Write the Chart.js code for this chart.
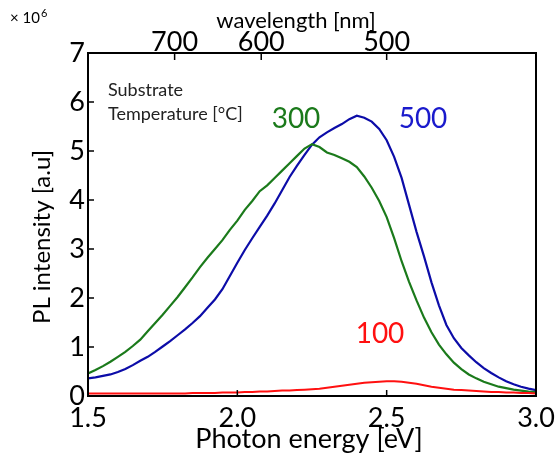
<!DOCTYPE html>
<html>
<head>
<meta charset="utf-8">
<script src="https://cdn.jsdelivr.net/npm/chart.js@4"></script>
<style>
  body { margin: 0; background: #fff; }
  canvas { display: block; }
</style>
</head>
<body>
<canvas id="plChart" width="555" height="454"></canvas>
<script>
// photon energy grid [eV]
const energy = [
  1.500, 1.525, 1.550, 1.575, 1.600, 1.625, 1.650, 1.675, 1.700, 1.725,
  1.750, 1.775, 1.800, 1.825, 1.850, 1.875, 1.900, 1.925, 1.950, 1.975,
  2.000, 2.025, 2.050, 2.075, 2.100, 2.125, 2.150, 2.175, 2.200, 2.225,
  2.250, 2.275, 2.300, 2.325, 2.350, 2.375, 2.400, 2.425, 2.450, 2.475,
  2.500, 2.525, 2.550, 2.575, 2.600, 2.625, 2.650, 2.675, 2.700, 2.725,
  2.750, 2.775, 2.800, 2.825, 2.850, 2.875, 2.900, 2.925, 2.950, 2.975,
  3.000
];

// PL intensity (x 10^6) for each substrate temperature
const pl300 = [
  0.46, 0.53, 0.61, 0.70, 0.80, 0.90, 1.02, 1.15, 1.32, 1.49,
  1.66, 1.84, 2.02, 2.22, 2.42, 2.63, 2.82, 3.00, 3.18, 3.39,
  3.58, 3.80, 3.98, 4.18, 4.30, 4.45, 4.60, 4.75, 4.90, 5.05,
  5.14, 5.08, 4.97, 4.92, 4.85, 4.78, 4.67, 4.48, 4.25, 3.98,
  3.65, 3.22, 2.75, 2.33, 1.95, 1.60, 1.30, 1.05, 0.85, 0.68,
  0.55, 0.44, 0.36, 0.29, 0.24, 0.19, 0.16, 0.13, 0.11, 0.09,
  0.08
];
const pl500 = [
  0.36, 0.38, 0.41, 0.44, 0.49, 0.55, 0.63, 0.72, 0.80, 0.90,
  1.01, 1.12, 1.24, 1.36, 1.49, 1.63, 1.80, 1.97, 2.18, 2.45,
  2.72, 2.98, 3.22, 3.45, 3.68, 3.93, 4.20, 4.47, 4.70, 4.92,
  5.13, 5.28, 5.38, 5.47, 5.55, 5.65, 5.72, 5.68, 5.60, 5.45,
  5.22, 4.88, 4.45, 3.90, 3.35, 2.85, 2.32, 1.85, 1.45, 1.18,
  0.98, 0.83, 0.69, 0.57, 0.47, 0.38, 0.30, 0.24, 0.19, 0.15,
  0.12
];
const pl100 = [
  0.05, 0.05, 0.05, 0.05, 0.05, 0.05, 0.05, 0.05, 0.05, 0.05,
  0.05, 0.05, 0.05, 0.05, 0.06, 0.06, 0.06, 0.06, 0.07, 0.07,
  0.07, 0.08, 0.08, 0.09, 0.09, 0.10, 0.11, 0.11, 0.12, 0.13,
  0.14, 0.15, 0.17, 0.19, 0.21, 0.23, 0.25, 0.27, 0.28, 0.29,
  0.30, 0.30, 0.29, 0.27, 0.25, 0.22, 0.19, 0.17, 0.15, 0.13,
  0.12, 0.11, 0.10, 0.09, 0.08, 0.08, 0.07, 0.07, 0.06, 0.06,
  0.05
];

const xTicks = [1.5, 2.0, 2.5, 3.0];
const yTicks = [0, 1, 2, 3, 4, 5, 6, 7];
const wavelengthLabels = ['700', '600', '500'];
const wavelengthTickEnergy = [1.79, 2.08, 2.50]; // where the nm ticks sit on the eV axis

const FONT = 'Lato';
const GREEN = '#1b7a1b';
const BLUE = '#0c0ca8';
const RED = '#ff1010';

function toPoints(ys) {
  return energy.map((e, i) => ({ x: e, y: ys[i] }));
}

// frame, inward ticks and free text
const decorPlugin = {
  id: 'decor',
  afterDraw(chart) {
    const { ctx, chartArea: a, scales } = chart;
    ctx.save();
    ctx.strokeStyle = '#000';
    ctx.lineWidth = 2;
    ctx.strokeRect(a.left, a.top, a.right - a.left, a.bottom - a.top);

    ctx.lineWidth = 1.5;
    ctx.beginPath();
    yTicks.forEach(v => {
      const y = scales.y.getPixelForValue(v);
      ctx.moveTo(a.left, y); ctx.lineTo(a.left + 6, y);
    });
    xTicks.forEach(v => {
      const x = scales.x.getPixelForValue(v);
      ctx.moveTo(x, a.bottom); ctx.lineTo(x, a.bottom - 6);
    });
    wavelengthTickEnergy.forEach(v => {
      const x = scales.x.getPixelForValue(v);
      ctx.moveTo(x, a.top); ctx.lineTo(x, a.top + 7);
    });
    ctx.stroke();

    ctx.fillStyle = '#000';
    ctx.textBaseline = 'alphabetic';
    ctx.textAlign = 'center';
    ctx.font = `27px ${FONT}`;
    ctx.fillText('Photon energy [eV]', 309, 448);
    ctx.font = `22px ${FONT}`;
    ctx.fillText('wavelength [nm]', 296, 28);

    ctx.save();
    ctx.translate(50, 237);
    ctx.rotate(-Math.PI / 2);
    ctx.font = `24px ${FONT}`;
    ctx.fillText('PL intensity [a.u]', 0, 0);
    ctx.restore();

    // exponent note
    ctx.textAlign = 'left';
    ctx.font = `15px ${FONT}`;
    ctx.fillText('\u00d7 10', 10, 23);
    const w = ctx.measureText('\u00d7 10').width;
    ctx.font = `11px ${FONT}`;
    ctx.fillText('6', 10 + w + 1, 17);

    ctx.fillStyle = '#222';
    ctx.font = `18px ${FONT}`;
    ctx.fillText('Substrate', 108, 96);
    ctx.fillText('Temperature [\u00b0C]', 108, 120);

    ctx.textAlign = 'center';
    ctx.font = `28px ${FONT}`;
    ctx.fillStyle = GREEN;
    ctx.fillText('300', 296, 128);
    ctx.fillStyle = '#1a1acc';
    ctx.fillText('500', 423, 128);
    ctx.fillStyle = RED;
    ctx.fillText('100', 380, 343);
    ctx.restore();
  }
};

function fixSides(s) {
  s.paddingLeft = 0;
  s.paddingRight = 0;
}

const ctx = document.getElementById('plChart').getContext('2d');
const plChart = new Chart(ctx, {
  type: 'line',
  data: {
    datasets: [
      { label: '100', data: toPoints(pl100), borderColor: RED, borderWidth: 2, pointRadius: 0 },
      { label: '300', data: toPoints(pl300), borderColor: GREEN, borderWidth: 2.2, pointRadius: 0 },
      { label: '500', data: toPoints(pl500), borderColor: BLUE, borderWidth: 2.2, pointRadius: 0 }
    ]
  },
  options: {
    responsive: false,
    animation: false,
    devicePixelRatio: 1,
    layout: { padding: { left: 0, right: 19, top: 0, bottom: 0 } },
    plugins: {
      legend: { display: false },
      tooltip: { enabled: false }
    },
    scales: {
      x: {
        type: 'linear',
        position: 'bottom',
        min: 1.5,
        max: 3.0,
        grid: { display: false, drawTicks: false },
        border: { display: false },
        afterBuildTicks: s => { s.ticks = xTicks.map(v => ({ value: v })); },
        afterFit: s => { s.height = 58; fixSides(s); },
        ticks: {
          autoSkip: false,
          maxRotation: 0,
          padding: 6,
          color: '#000',
          font: { family: FONT, size: 27 },
          callback: v => v.toFixed(1)
        }
      },
      x2: {
        type: 'linear',
        position: 'top',
        min: 1.5,
        max: 3.0,
        grid: { display: false, drawTicks: false },
        border: { display: false },
        afterBuildTicks: s => { s.ticks = wavelengthTickEnergy.map(v => ({ value: v })); },
        afterFit: s => { s.height = 53; fixSides(s); },
        ticks: {
          autoSkip: false,
          maxRotation: 0,
          padding: -5,
          color: '#000',
          font: { family: FONT, size: 27 },
          callback: (v, i) => wavelengthLabels[i]
        }
      },
      y: {
        min: 0,
        max: 7,
        grid: { display: false, drawTicks: false },
        border: { display: false },
        afterBuildTicks: s => { s.ticks = yTicks.map(v => ({ value: v })); },
        afterFit: s => { s.width = 88; },
        ticks: {
          padding: 3,
          color: '#000',
          font: { family: FONT, size: 27 }
        }
      }
    }
  },
  plugins: [decorPlugin]
});
</script>
</body>
</html>
